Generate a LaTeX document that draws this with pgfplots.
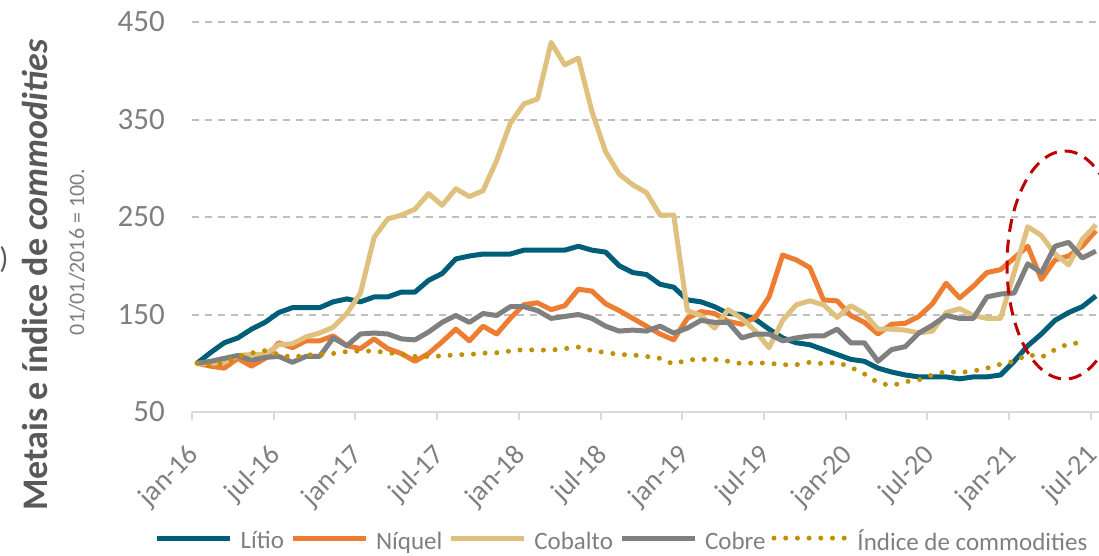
\documentclass[border=0pt]{standalone}
\usepackage{fontspec}
\setmainfont{Carlito}
\usepackage{pgfplots}
\pgfplotsset{compat=1.18}
\usepackage{pgfplotstable}
\definecolor{lit}{HTML}{005E78}
\definecolor{niq}{HTML}{ED7D31}
\definecolor{cob}{HTML}{DFC07F}
\definecolor{cobre}{HTML}{808080}
\definecolor{idx}{HTML}{BF9000}
\definecolor{gridc}{HTML}{BFBFBF}
\definecolor{axc}{HTML}{D9D9D9}
\definecolor{txt}{HTML}{7F7F7F}
\definecolor{lab}{HTML}{595959}
\definecolor{redc}{HTML}{C00000}
\pgfplotstableread{
i lit niq cob cobre idx
0 100 100 100 100 100
1 111 97 100 102 97.5
2 121 95 101 105 100
3 126 105 108 108 107
4 135 97 109 103 110.5
5 142 105 109 106 113
6 152 121 119 107 109
7 157 116 120 101 106
8 157 123 127 107 108.5
9 157 123 131 107 109
10 163 128 137 126 110
11 166 118 151 118 112
12 163 115 172 130 112.5
13 168 125 229 131 112.5
14 168 115 248 130 111
15 173 110 252 125 109
16 173 102 258 124 107
17 185 110 274 132 107
18 192 122 262 142 107.5
19 207 135 279 149 108.7
20 210 123 271 142 109
21 212 138 277 151 110.4
22 212 130 308 149 110.8
23 212 146 346 158 112.5
24 216 160 366 158 114
25 216 162 371 154 113.5
26 216 155 429 146 113.5
27 216 159 406 148 115
28 220 176 413 150 116.5
29 216 174 358 146 113
30 214 161 317 138 111
31 200 154 294 133 109
32 193 146 283 134 108.5
33 191 138 275 133 107
34 181 130 252 138 105
35 178 124 252 131 99
36 165 146 154 136 103.5
37 163 153 149 144 104
38 158 151 136 142 104
39 151 143 155 142 102
40 150 140 146 126 99.5
41 145 147 133 130 100.5
42 135 168 116 130 100
43 126 211 144 123 98.5
44 121 206 160 126 98.5
45 119 198 164 128 101
46 114 165 160 128 99.5
47 109 164 147 135 101
48 104 149 159 121 96
49 102 142 151 121 89
50 95 130 135 102 80
51 91 140 135 114 77
52 88 141 134 117 81
53 86 148 131 131 83
54 86 161 133 139 88
55 86 182 152 149 91.5
56 84 167 156 146 90.5
57 86 179 149 146 92
58 86 193 146 168 95
59 88 196 146 171 99
60 102 208 193 172 102
61 118 220 240 202 109
62 130 186 231 193 106
63 144 206 212 220 114
64 152 210 201 224 120
65 158 220 227 208 121
66 169 236 242 215 nan
}\data
\begin{document}
\begin{tikzpicture}
\useasboundingbox (0,0) rectangle (1099pt,555pt);
\begin{axis}[
  at={(192pt,143pt)}, anchor=south west,
  scale only axis, width=907pt, height=390pt,
  xmin=-0.37, xmax=66.23, ymin=50, ymax=450,
  axis x line*=bottom, axis y line*=left,
  x axis line style={draw=axc, line width=2pt, -},
  y axis line style={draw=none, -},
  ytick={150,250,350,450},
  yticklabels={150,250,350,450},
  extra y ticks={50}, extra y tick labels={50},
  extra y tick style={grid=none},
  ymajorgrids,
  grid style={draw=gridc, line width=2pt, dash pattern=on 7pt off 6pt},
  ytick style={draw=none},
  xtick={-0.37,5.63,...,65.63},
  xticklabels={jan-16,jul-16,jan-17,jul-17,jan-18,jul-18,jan-19,jul-19,jan-20,jul-20,jan-21,jul-21},
  minor xtick={-0.37,5.63,...,65.63},
  xtick align=outside,
  major tick length=0pt, minor tick length=8pt,
  major x tick style={draw=none},
  minor x tick style={draw=axc, line width=2pt},
  /pgf/number format/assume math mode=true,
  yticklabel style={font=\fontsize{31}{31}\selectfont, text=txt, anchor=east, inner sep=0pt, xshift=-27pt},
  xticklabel style={font=\fontsize{28}{28}\selectfont, text=txt, inner sep=0pt, xshift=3pt, yshift=-39pt, rotate=45, anchor=east},
  legend style={at={(0.473,-0.331)}, anchor=center, draw=none, fill=none,
    font=\fontsize{25}{25}\selectfont, text=txt,
    nodes={inner sep=0pt},
    /tikz/every even column/.append style={column sep=6pt},
    /tikz/every odd column/.append style={column sep=8pt}},
  legend columns=-1,
  legend image code/.code={\draw[#1] (0pt,0.3em) -- (73pt,0.3em);},
]
\addplot[lit, line width=5pt, line join=round] table[x=i,y=lit]{\data};
\addlegendentry{Lítio}
\addplot[niq, line width=5pt, line join=round] table[x=i,y=niq]{\data};
\addlegendentry{Níquel}
\addplot[cob, line width=5pt, line join=round] table[x=i,y=cob]{\data};
\addlegendentry{Cobalto}
\addplot[cobre, line width=5pt, line join=round] table[x=i,y=cobre]{\data};
\addlegendentry{Cobre}
\addplot[idx, line width=5pt, line cap=round, dash pattern=on 0pt off 11.7pt] table[x=i,y=idx]{\data};
\addlegendentry{Índice de commodities}
\end{axis}
\draw[redc, line width=3pt, dash pattern=on 13pt off 8pt] (1065pt,290pt) ellipse [x radius=58pt, y radius=114pt];
\node[rotate=90, font=\fontsize{36}{36}\selectfont\bfseries, text=lab] at (35pt,280pt) {Metais e índice de \textit{commodities}};
\node[rotate=90, font=\fontsize{22}{22}\selectfont, text=txt] at (77pt,303pt) {01/01/2016 = 100.};
\node[font=\fontsize{30}{30}\selectfont, text=lab] at (4pt,295pt) {)};
\end{tikzpicture}
\end{document}
